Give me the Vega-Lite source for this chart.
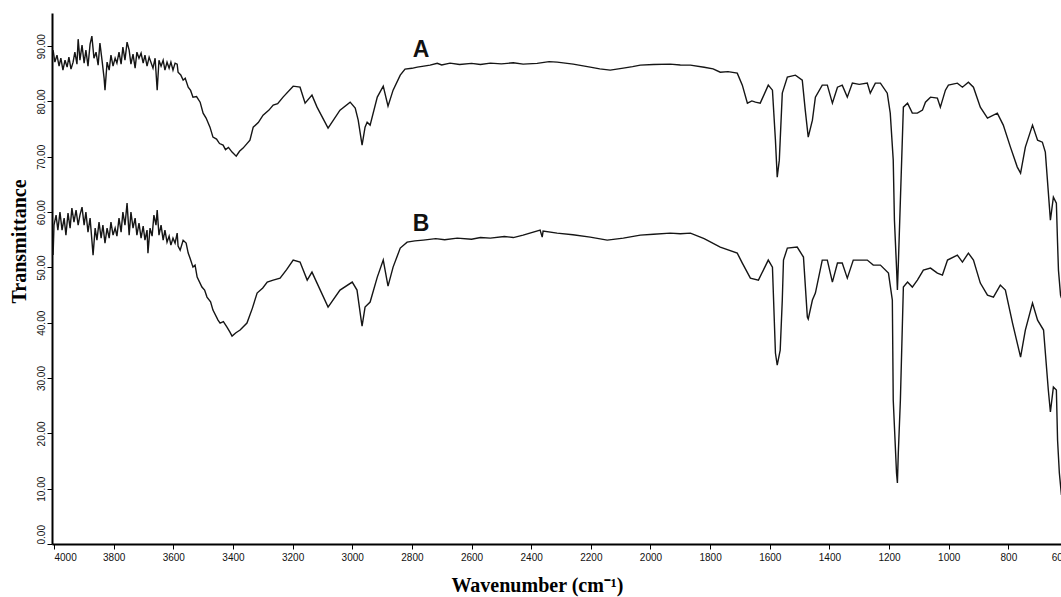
{
  "$schema": "https://vega.github.io/schema/vega-lite/v6.json",
  "autosize": {"type": "none"},
  "padding": {"left": 52, "top": 13, "right": -7, "bottom": 53},
  "width": 1016,
  "height": 531,
  "background": "white",
  "config": {
    "view": {"stroke": null},
    "axis": {
      "grid": false,
      "domainColor": "#000",
      "domainWidth": 2,
      "tickColor": "#000",
      "tickWidth": 1,
      "tickSize": 5,
      "labelFont": "Liberation Sans",
      "labelFontSize": 10,
      "labelColor": "#111",
      "titleFont": "Liberation Serif",
      "titleFontWeight": "bold",
      "titleFontSize": 20,
      "titleColor": "#000"
    }
  },
  "layer": [
    {
      "data": {"values": [
        {"s":"A","wn":4003,"T":89.28},{"s":"A","wn":3997,"T":87.11},{"s":"A","wn":3990,"T":88.38},{"s":"A","wn":3983,"T":86.39},{"s":"A","wn":3977,"T":87.83},{"s":"A","wn":3970,"T":85.67},{"s":"A","wn":3963,"T":87.47},{"s":"A","wn":3956,"T":86.21},{"s":"A","wn":3950,"T":88.02},{"s":"A","wn":3943,"T":85.85},{"s":"A","wn":3936,"T":87.11},{"s":"A","wn":3930,"T":88.92},{"s":"A","wn":3923,"T":86.75},{"s":"A","wn":3919,"T":91.27},{"s":"A","wn":3913,"T":87.47},{"s":"A","wn":3906,"T":90.18},{"s":"A","wn":3899,"T":86.93},{"s":"A","wn":3893,"T":89.28},{"s":"A","wn":3886,"T":86.39},{"s":"A","wn":3879,"T":90.37},{"s":"A","wn":3873,"T":91.81},{"s":"A","wn":3866,"T":87.83},{"s":"A","wn":3859,"T":88.92},{"s":"A","wn":3852,"T":86.57},{"s":"A","wn":3846,"T":90.55},{"s":"A","wn":3839,"T":87.47},{"s":"A","wn":3832,"T":84.22},{"s":"A","wn":3829,"T":82.05},{"s":"A","wn":3822,"T":87.11},{"s":"A","wn":3815,"T":85.67},{"s":"A","wn":3809,"T":88.38},{"s":"A","wn":3802,"T":86.39},{"s":"A","wn":3795,"T":87.83},{"s":"A","wn":3789,"T":86.93},{"s":"A","wn":3782,"T":88.92},{"s":"A","wn":3775,"T":86.75},{"s":"A","wn":3769,"T":89.82},{"s":"A","wn":3762,"T":87.47},{"s":"A","wn":3755,"T":90.73},{"s":"A","wn":3748,"T":89.28},{"s":"A","wn":3742,"T":86.75},{"s":"A","wn":3735,"T":88.56},{"s":"A","wn":3728,"T":86.03},{"s":"A","wn":3722,"T":88.92},{"s":"A","wn":3715,"T":87.83},{"s":"A","wn":3708,"T":88.74},{"s":"A","wn":3701,"T":86.93},{"s":"A","wn":3695,"T":88.38},{"s":"A","wn":3688,"T":86.39},{"s":"A","wn":3681,"T":88.02},{"s":"A","wn":3675,"T":87.11},{"s":"A","wn":3668,"T":86.03},{"s":"A","wn":3661,"T":87.83},{"s":"A","wn":3654,"T":82.05},{"s":"A","wn":3648,"T":87.47},{"s":"A","wn":3641,"T":86.39},{"s":"A","wn":3634,"T":87.47},{"s":"A","wn":3628,"T":85.67},{"s":"A","wn":3621,"T":87.11},{"s":"A","wn":3614,"T":86.03},{"s":"A","wn":3608,"T":87.11},{"s":"A","wn":3601,"T":85.67},{"s":"A","wn":3594,"T":86.93},{"s":"A","wn":3587,"T":86.75},{"s":"A","wn":3584,"T":85.30},
        {"s":"A","wn":3575,"T":84.8},{"s":"A","wn":3567,"T":83.86},{"s":"A","wn":3560,"T":84.2},{"s":"A","wn":3550,"T":82.6},{"s":"A","wn":3542,"T":82.0},{"s":"A","wn":3534,"T":80.79},{"s":"A","wn":3522,"T":80.9},{"s":"A","wn":3510,"T":79.88},{"s":"A","wn":3500,"T":77.89},{"s":"A","wn":3490,"T":77.0},{"s":"A","wn":3477,"T":75.36},{"s":"A","wn":3467,"T":73.56},{"s":"A","wn":3455,"T":73.2},{"s":"A","wn":3445,"T":72.4},{"s":"A","wn":3433,"T":72.11},{"s":"A","wn":3425,"T":71.3},{"s":"A","wn":3415,"T":71.7},{"s":"A","wn":3403,"T":70.85},{"s":"A","wn":3389,"T":70.12},{"s":"A","wn":3378,"T":71.0},{"s":"A","wn":3366,"T":71.57},{"s":"A","wn":3343,"T":73.01},{"s":"A","wn":3332,"T":75.36},{"s":"A","wn":3315,"T":76.2},{"s":"A","wn":3299,"T":77.53},{"s":"A","wn":3280,"T":78.4},{"s":"A","wn":3265,"T":79.34},{"s":"A","wn":3250,"T":79.6},{"s":"A","wn":3232,"T":80.79},{"s":"A","wn":3198,"T":82.77},{"s":"A","wn":3175,"T":82.59},{"s":"A","wn":3158,"T":79.70},{"s":"A","wn":3135,"T":81.15},{"s":"A","wn":3118,"T":78.98},{"s":"A","wn":3081,"T":75.18},{"s":"A","wn":3041,"T":78.44},{"s":"A","wn":3007,"T":79.88},{"s":"A","wn":2990,"T":78.80},{"s":"A","wn":2980,"T":76.63},{"s":"A","wn":2967,"T":72.11},{"s":"A","wn":2957,"T":75.36},{"s":"A","wn":2950,"T":76.27},{"s":"A","wn":2940,"T":75.73},{"s":"A","wn":2916,"T":80.79},{"s":"A","wn":2896,"T":82.77},{"s":"A","wn":2880,"T":79.16},{"s":"A","wn":2863,"T":82.05},{"s":"A","wn":2839,"T":84.76},{"s":"A","wn":2823,"T":85.85},{"s":"A","wn":2800,"T":86.0},{"s":"A","wn":2782,"T":86.21},{"s":"A","wn":2760,"T":86.4},{"s":"A","wn":2739,"T":86.57},{"s":"A","wn":2715,"T":86.9},{"s":"A","wn":2700,"T":86.6},{"s":"A","wn":2672,"T":86.93},{"s":"A","wn":2640,"T":86.7},{"s":"A","wn":2600,"T":86.9},{"s":"A","wn":2570,"T":86.7},{"s":"A","wn":2537,"T":86.93},{"s":"A","wn":2500,"T":86.8},{"s":"A","wn":2460,"T":87.0},{"s":"A","wn":2427,"T":86.75},{"s":"A","wn":2380,"T":86.9},{"s":"A","wn":2340,"T":87.2},{"s":"A","wn":2313,"T":87.11},{"s":"A","wn":2259,"T":86.75},{"s":"A","wn":2202,"T":86.21},{"s":"A","wn":2170,"T":85.9},{"s":"A","wn":2135,"T":85.67},{"s":"A","wn":2091,"T":86.03},{"s":"A","wn":2060,"T":86.3},{"s":"A","wn":2034,"T":86.57},{"s":"A","wn":1990,"T":86.7},{"s":"A","wn":1934,"T":86.75},{"s":"A","wn":1900,"T":86.6},{"s":"A","wn":1866,"T":86.57},{"s":"A","wn":1820,"T":86.2},{"s":"A","wn":1790,"T":85.9},{"s":"A","wn":1766,"T":85.30},{"s":"A","wn":1740,"T":85.4},{"s":"A","wn":1709,"T":85.12},{"s":"A","wn":1692,"T":82.96},{"s":"A","wn":1675,"T":79.70},{"s":"A","wn":1660,"T":80.1},{"s":"A","wn":1648,"T":79.88},{"s":"A","wn":1632,"T":79.70},{"s":"A","wn":1605,"T":82.96},{"s":"A","wn":1591,"T":82.05},{"s":"A","wn":1581,"T":73.01},{"s":"A","wn":1575,"T":66.33},{"s":"A","wn":1568,"T":69.40},{"s":"A","wn":1558,"T":81.51},{"s":"A","wn":1541,"T":84.40},{"s":"A","wn":1514,"T":84.76},{"s":"A","wn":1491,"T":83.86},{"s":"A","wn":1481,"T":78.44},{"s":"A","wn":1471,"T":73.56},{"s":"A","wn":1457,"T":76.63},{"s":"A","wn":1447,"T":80.79},{"s":"A","wn":1424,"T":82.96},{"s":"A","wn":1407,"T":82.96},{"s":"A","wn":1390,"T":79.70},{"s":"A","wn":1373,"T":82.59},{"s":"A","wn":1357,"T":82.96},{"s":"A","wn":1340,"T":80.79},{"s":"A","wn":1323,"T":83.32},{"s":"A","wn":1300,"T":83.1},{"s":"A","wn":1273,"T":83.32},{"s":"A","wn":1263,"T":81.51},{"s":"A","wn":1246,"T":83.32},{"s":"A","wn":1229,"T":83.32},{"s":"A","wn":1206,"T":81.51},{"s":"A","wn":1196,"T":77.89},{"s":"A","wn":1186,"T":69.40},{"s":"A","wn":1182,"T":58.56},{"s":"A","wn":1175,"T":50.06},{"s":"A","wn":1172,"T":45.91},{"s":"A","wn":1169,"T":50.42},{"s":"A","wn":1162,"T":62.17},{"s":"A","wn":1152,"T":78.98},{"s":"A","wn":1138,"T":79.70},{"s":"A","wn":1122,"T":77.89},{"s":"A","wn":1105,"T":77.89},{"s":"A","wn":1088,"T":78.44},{"s":"A","wn":1078,"T":79.88},{"s":"A","wn":1061,"T":80.79},{"s":"A","wn":1038,"T":80.61},{"s":"A","wn":1028,"T":78.98},{"s":"A","wn":1011,"T":82.05},{"s":"A","wn":1001,"T":82.96},{"s":"A","wn":971,"T":83.32},{"s":"A","wn":954,"T":82.59},{"s":"A","wn":934,"T":83.50},{"s":"A","wn":917,"T":82.59},{"s":"A","wn":894,"T":78.98},{"s":"A","wn":870,"T":76.99},{"s":"A","wn":837,"T":77.89},{"s":"A","wn":817,"T":75.73},{"s":"A","wn":793,"T":71.75},{"s":"A","wn":770,"T":68.14},{"s":"A","wn":759,"T":67.05},{"s":"A","wn":743,"T":71.75},{"s":"A","wn":719,"T":75.73},{"s":"A","wn":702,"T":73.01},{"s":"A","wn":686,"T":72.65},{"s":"A","wn":676,"T":70.85},{"s":"A","wn":666,"T":63.62},{"s":"A","wn":659,"T":58.56},{"s":"A","wn":649,"T":62.71},{"s":"A","wn":639,"T":61.63},{"s":"A","wn":635,"T":54.40},{"s":"A","wn":632,"T":49.52},{"s":"A","wn":625,"T":45.00},{"s":"A","wn":622,"T":44.46},
        {"s":"B","wn":4003,"T":52.23},{"s":"B","wn":4000,"T":57.65},{"s":"B","wn":3993,"T":59.46},{"s":"B","wn":3987,"T":56.75},{"s":"B","wn":3980,"T":60.00},{"s":"B","wn":3973,"T":56.75},{"s":"B","wn":3966,"T":58.92},{"s":"B","wn":3960,"T":55.85},{"s":"B","wn":3953,"T":59.82},{"s":"B","wn":3946,"T":57.11},{"s":"B","wn":3940,"T":60.73},{"s":"B","wn":3933,"T":58.20},{"s":"B","wn":3926,"T":60.36},{"s":"B","wn":3919,"T":57.65},{"s":"B","wn":3913,"T":59.46},{"s":"B","wn":3906,"T":60.91},{"s":"B","wn":3899,"T":57.65},{"s":"B","wn":3893,"T":60.00},{"s":"B","wn":3886,"T":56.39},{"s":"B","wn":3879,"T":58.92},{"s":"B","wn":3873,"T":54.94},{"s":"B","wn":3869,"T":52.23},{"s":"B","wn":3862,"T":57.11},{"s":"B","wn":3856,"T":54.94},{"s":"B","wn":3849,"T":58.20},{"s":"B","wn":3842,"T":55.30},{"s":"B","wn":3836,"T":57.65},{"s":"B","wn":3829,"T":54.40},{"s":"B","wn":3822,"T":57.11},{"s":"B","wn":3815,"T":55.30},{"s":"B","wn":3809,"T":58.20},{"s":"B","wn":3802,"T":55.85},{"s":"B","wn":3795,"T":57.11},{"s":"B","wn":3789,"T":55.67},{"s":"B","wn":3782,"T":58.92},{"s":"B","wn":3775,"T":56.39},{"s":"B","wn":3769,"T":60.00},{"s":"B","wn":3762,"T":57.65},{"s":"B","wn":3755,"T":61.63},{"s":"B","wn":3748,"T":55.85},{"s":"B","wn":3742,"T":60.00},{"s":"B","wn":3735,"T":57.11},{"s":"B","wn":3728,"T":58.92},{"s":"B","wn":3722,"T":55.85},{"s":"B","wn":3715,"T":58.01},{"s":"B","wn":3708,"T":55.30},{"s":"B","wn":3701,"T":57.47},{"s":"B","wn":3695,"T":54.94},{"s":"B","wn":3688,"T":56.75},{"s":"B","wn":3685,"T":52.59},{"s":"B","wn":3678,"T":57.11},{"s":"B","wn":3671,"T":55.67},{"s":"B","wn":3665,"T":59.46},{"s":"B","wn":3658,"T":57.65},{"s":"B","wn":3654,"T":60.36},{"s":"B","wn":3648,"T":55.85},{"s":"B","wn":3641,"T":57.65},{"s":"B","wn":3634,"T":54.94},{"s":"B","wn":3628,"T":56.75},{"s":"B","wn":3621,"T":54.58},{"s":"B","wn":3614,"T":55.67},{"s":"B","wn":3608,"T":54.04},{"s":"B","wn":3601,"T":55.30},{"s":"B","wn":3594,"T":54.40},{"s":"B","wn":3587,"T":56.21},{"s":"B","wn":3584,"T":53.86},{"s":"B","wn":3577,"T":53.13},
        {"s":"B","wn":3567,"T":54.9},{"s":"B","wn":3557,"T":54.40},{"s":"B","wn":3550,"T":52.6},{"s":"B","wn":3544,"T":51.69},{"s":"B","wn":3534,"T":50.06},{"s":"B","wn":3527,"T":50.4},{"s":"B","wn":3520,"T":48.25},{"s":"B","wn":3504,"T":46.45},{"s":"B","wn":3495,"T":45.9},{"s":"B","wn":3487,"T":44.64},{"s":"B","wn":3475,"T":43.8},{"s":"B","wn":3467,"T":42.29},{"s":"B","wn":3450,"T":40.48},{"s":"B","wn":3443,"T":39.94},{"s":"B","wn":3432,"T":40.2},{"s":"B","wn":3420,"T":39.22},{"s":"B","wn":3410,"T":38.3},{"s":"B","wn":3403,"T":37.59},{"s":"B","wn":3390,"T":38.2},{"s":"B","wn":3376,"T":38.68},{"s":"B","wn":3353,"T":39.94},{"s":"B","wn":3335,"T":42.6},{"s":"B","wn":3319,"T":45.36},{"s":"B","wn":3300,"T":46.3},{"s":"B","wn":3285,"T":47.35},{"s":"B","wn":3265,"T":47.7},{"s":"B","wn":3242,"T":48.07},{"s":"B","wn":3220,"T":49.6},{"s":"B","wn":3198,"T":51.33},{"s":"B","wn":3175,"T":50.97},{"s":"B","wn":3151,"T":47.71},{"s":"B","wn":3135,"T":49.16},{"s":"B","wn":3118,"T":47.17},{"s":"B","wn":3081,"T":42.83},{"s":"B","wn":3041,"T":45.91},{"s":"B","wn":3000,"T":47.35},{"s":"B","wn":2984,"T":45.91},{"s":"B","wn":2970,"T":40.48},{"s":"B","wn":2967,"T":39.40},{"s":"B","wn":2957,"T":42.83},{"s":"B","wn":2940,"T":43.74},{"s":"B","wn":2916,"T":48.25},{"s":"B","wn":2896,"T":51.33},{"s":"B","wn":2880,"T":46.63},{"s":"B","wn":2863,"T":50.06},{"s":"B","wn":2839,"T":53.50},{"s":"B","wn":2816,"T":54.58},{"s":"B","wn":2790,"T":54.8},{"s":"B","wn":2762,"T":54.94},{"s":"B","wn":2720,"T":55.2},{"s":"B","wn":2690,"T":55.0},{"s":"B","wn":2648,"T":55.30},{"s":"B","wn":2600,"T":55.1},{"s":"B","wn":2570,"T":55.4},{"s":"B","wn":2537,"T":55.30},{"s":"B","wn":2490,"T":55.6},{"s":"B","wn":2460,"T":55.4},{"s":"B","wn":2427,"T":55.85},{"s":"B","wn":2370,"T":56.75},{"s":"B","wn":2363,"T":55.48},{"s":"B","wn":2360,"T":56.57},{"s":"B","wn":2313,"T":56.21},{"s":"B","wn":2260,"T":55.9},{"s":"B","wn":2202,"T":55.48},{"s":"B","wn":2145,"T":54.94},{"s":"B","wn":2091,"T":55.30},{"s":"B","wn":2034,"T":55.85},{"s":"B","wn":1990,"T":56.0},{"s":"B","wn":1934,"T":56.21},{"s":"B","wn":1900,"T":56.1},{"s":"B","wn":1866,"T":56.21},{"s":"B","wn":1820,"T":55.2},{"s":"B","wn":1766,"T":53.68},{"s":"B","wn":1709,"T":52.59},{"s":"B","wn":1692,"T":50.79},{"s":"B","wn":1665,"T":48.07},{"s":"B","wn":1638,"T":47.71},{"s":"B","wn":1605,"T":51.33},{"s":"B","wn":1591,"T":50.06},{"s":"B","wn":1581,"T":34.52},{"s":"B","wn":1575,"T":32.35},{"s":"B","wn":1565,"T":35.06},{"s":"B","wn":1558,"T":44.10},{"s":"B","wn":1554,"T":51.33},{"s":"B","wn":1541,"T":53.50},{"s":"B","wn":1508,"T":53.68},{"s":"B","wn":1487,"T":51.87},{"s":"B","wn":1474,"T":41.03},{"s":"B","wn":1471,"T":40.66},{"s":"B","wn":1457,"T":44.10},{"s":"B","wn":1447,"T":45.36},{"s":"B","wn":1424,"T":51.33},{"s":"B","wn":1407,"T":51.33},{"s":"B","wn":1390,"T":47.35},{"s":"B","wn":1373,"T":50.79},{"s":"B","wn":1357,"T":50.79},{"s":"B","wn":1340,"T":48.07},{"s":"B","wn":1320,"T":51.33},{"s":"B","wn":1273,"T":51.33},{"s":"B","wn":1253,"T":50.42},{"s":"B","wn":1229,"T":50.42},{"s":"B","wn":1202,"T":48.98},{"s":"B","wn":1189,"T":44.10},{"s":"B","wn":1186,"T":26.03},{"s":"B","wn":1175,"T":12.83},{"s":"B","wn":1172,"T":11.02},{"s":"B","wn":1169,"T":16.45},{"s":"B","wn":1162,"T":26.03},{"s":"B","wn":1152,"T":46.45},{"s":"B","wn":1138,"T":47.35},{"s":"B","wn":1122,"T":46.45},{"s":"B","wn":1105,"T":47.71},{"s":"B","wn":1085,"T":49.52},{"s":"B","wn":1061,"T":49.88},{"s":"B","wn":1038,"T":48.98},{"s":"B","wn":1021,"T":48.62},{"s":"B","wn":1004,"T":51.33},{"s":"B","wn":971,"T":52.23},{"s":"B","wn":954,"T":50.97},{"s":"B","wn":934,"T":52.59},{"s":"B","wn":917,"T":51.33},{"s":"B","wn":894,"T":47.17},{"s":"B","wn":870,"T":45.00},{"s":"B","wn":850,"T":44.64},{"s":"B","wn":827,"T":46.81},{"s":"B","wn":810,"T":45.91},{"s":"B","wn":786,"T":39.94},{"s":"B","wn":759,"T":33.80},{"s":"B","wn":743,"T":38.68},{"s":"B","wn":719,"T":43.56},{"s":"B","wn":702,"T":40.48},{"s":"B","wn":682,"T":38.68},{"s":"B","wn":666,"T":27.83},{"s":"B","wn":659,"T":23.86},{"s":"B","wn":649,"T":28.37},{"s":"B","wn":639,"T":27.83},{"s":"B","wn":635,"T":18.80},{"s":"B","wn":629,"T":12.83},{"s":"B","wn":622,"T":8.86}
      ]},
      "mark": {"type": "line", "color": "#151515", "strokeWidth": 1.4, "clip": true},
      "encoding": {
        "x": {
          "field": "wn", "type": "quantitative",
          "scale": {"domain": [600, 4006.7], "reverse": true, "nice": false, "zero": false},
          "axis": {
            "values": [4000, 3800, 3600, 3400, 3200, 3000, 2800, 2600, 2400, 2200, 2000, 1800, 1600, 1400, 1200, 1000, 800, 600],
            "format": "d",
            "labelPadding": 3,
            "labelAlign": {"condition": [{"test": "datum.value === 4000", "value": "left"}, {"test": "datum.value === 600", "value": "right"}], "value": "center"},
            "title": "Wavenumber (cm⁻¹)",
            "titleX": 485,
            "titleY": 47,
            "titleBaseline": "alphabetic",
            "titleAlign": "center"
          }
        },
        "y": {
          "field": "T", "type": "quantitative",
          "scale": {"domain": [0, 96], "nice": false, "zero": false},
          "axis": {
            "values": [0, 10, 20, 30, 40, 50, 60, 70, 80, 90],
            "format": ".2f",
            "labelAngle": -90,
            "labelBaseline": "bottom",
            "labelPadding": 1,
            "labelAlign": {"condition": {"test": "datum.value === 0", "value": "left"}, "value": "center"},
            "title": "Transmittance",
            "titleAngle": -90,
            "titleX": -27,
            "titleY": 228,
            "titleBaseline": "alphabetic",
            "titleAlign": "center"
          }
        },
        "detail": {"field": "s", "type": "nominal"}
      }
    },
    {
      "data": {"values": [
        {"label": "A", "wn": 2769, "T": 88.0},
        {"label": "B", "wn": 2769, "T": 56.6}
      ]},
      "mark": {"type": "text", "font": "Liberation Sans", "fontWeight": "bold", "fontSize": 23, "align": "center", "baseline": "alphabetic", "color": "#111"},
      "encoding": {
        "x": {"field": "wn", "type": "quantitative"},
        "y": {"field": "T", "type": "quantitative"},
        "text": {"field": "label"}
      }
    }
  ]
}
